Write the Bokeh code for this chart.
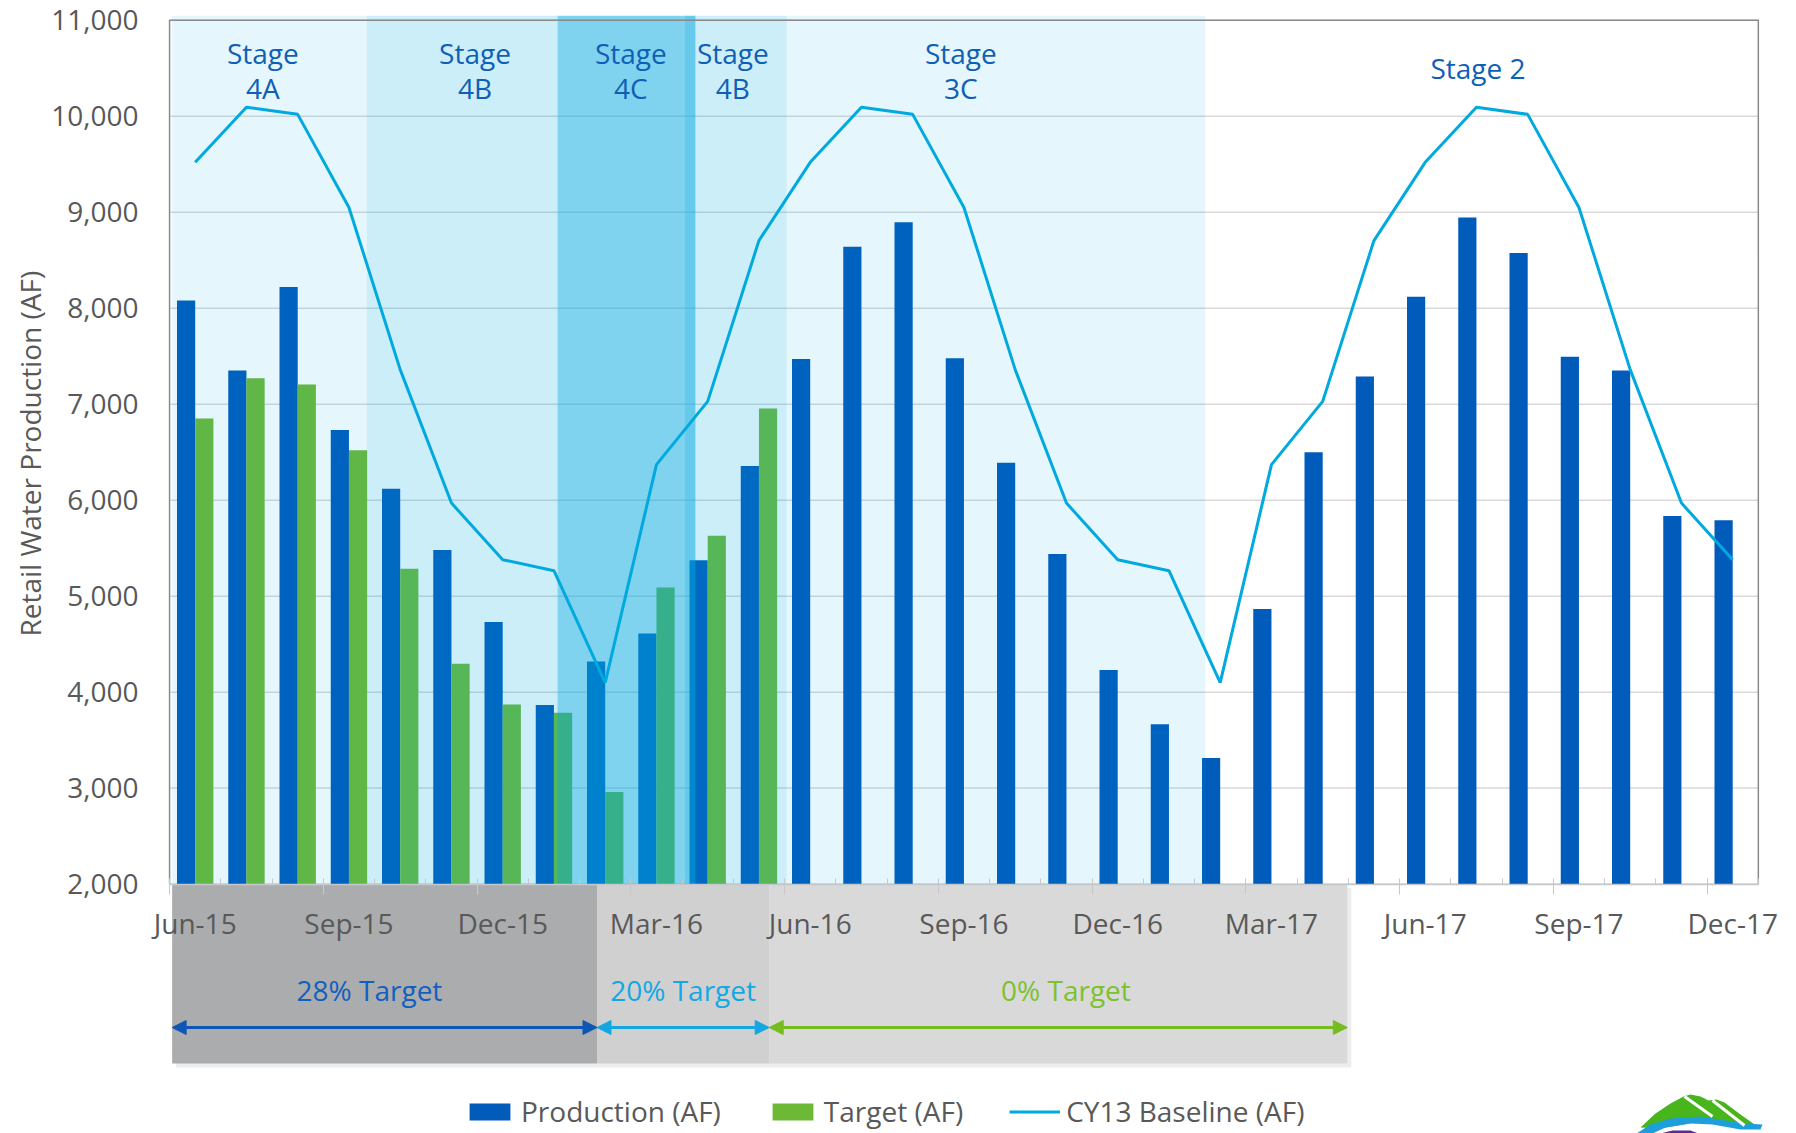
from bokeh.plotting import figure
from bokeh.models import (Range1d, FixedTicker, LinearAxis, NumeralTickFormatter, Arrow,
                          NormalHead, Legend, LegendItem, Title, Grid)
from bokeh.core.properties import value
from bokeh.embed import file_html
from bokeh.resources import INLINE

# ---------------- data ----------------
months = ["Jun-15", "Jul-15", "Aug-15", "Sep-15", "Oct-15", "Nov-15", "Dec-15", "Jan-16",
          "Feb-16", "Mar-16", "Apr-16", "May-16", "Jun-16", "Jul-16", "Aug-16", "Sep-16",
          "Oct-16", "Nov-16", "Dec-16", "Jan-17", "Feb-17", "Mar-17", "Apr-17", "May-17",
          "Jun-17", "Jul-17", "Aug-17", "Sep-17", "Oct-17", "Nov-17", "Dec-17"]
production = [8080, 7350, 8220, 6730, 6120, 5480, 4730, 3865, 4320, 4610, 5375, 6355,
              7470, 8640, 8895, 7480, 6390, 5440, 4230, 3665, 3315, 4865, 6500, 7290,
              8120, 8945, 8575, 7495, 7350, 5835, 5790]
target = [6850, 7270, 7205, 6520, 5285, 4295, 3870, 3785, 2960, 5090, 5630, 6955]
baseline = [9520, 10095, 10020, 9050, 7360, 5970, 5380, 5265, 4100, 6370, 7030, 8705,
            9520, 10095, 10020, 9050, 7360, 5970, 5380, 5265, 4100, 6370, 7030, 8705,
            9520, 10095, 10020, 9050, 7360, 5970, 5380]
x_tick_labels = ["Jun-15", "Sep-15", "Dec-15", "Mar-16", "Jun-16", "Sep-16", "Dec-16",
                 "Mar-17", "Jun-17", "Sep-17", "Dec-17"]
y_ticks = [2000, 3000, 4000, 5000, 6000, 7000, 8000, 9000, 10000, 11000]

# shaded stage periods (month-index positions)
shade_stage = ["4A", "4B", "4C", "4B", "3C"]
shade_start = [-0.45, 3.35, 7.07, 9.56, 11.54]
shade_end = [3.35, 7.07, 9.76, 11.54, 19.71]
stage_labels = ["Stage\n4A", "Stage\n4B", "Stage\n4C", "Stage\n4B", "Stage\n3C", "Stage 2"]
stage_label_x = [1.32, 5.46, 8.5, 10.49, 14.94, 25.03]

# conservation target periods
target_names = ["28% Target", "20% Target", "0% Target"]
target_start = [-0.45, 7.84, 11.2]
target_end = [7.84, 11.2, 22.48]
target_label_x = [3.40, 9.52, 16.99]

# ---------------- geometry ----------------
W, H = 1796, 1133
FL, FR, FT = 145, 1790, 15
MPX, XC0 = 51.25, 194.7              # px per month, px of first month
X0, X1 = (FL - XC0) / MPX, (FR - XC0) / MPX
Y_TOP = 11050
K = (883.6 - 19.8) / 9000.0          # px per data unit
Y_BOT = Y_TOP - (H - FT) / K
Y_BASE, Y_MAX = 2000, 11000
XL, XR = -0.5, 30.5


def px_x(px):
    return X0 + (px - FL) / MPX


def px_y(py):
    return Y_TOP - (py - FT) / K


FONT = "Open Sans"
GREY = "#595959"

p = figure(width=W, height=H, x_range=Range1d(X0, X1), y_range=Range1d(Y_BOT, Y_TOP),
           output_backend="svg", toolbar_location=None, title=None,
           min_border_left=FL, min_border_right=W - FR, min_border_top=FT, min_border_bottom=0,
           x_axis_location=None, y_axis_location="left", outline_line_color=None,
           background_fill_color="white", border_fill_color="white")

# y axis
p.yaxis.ticker = FixedTicker(ticks=y_ticks)
p.yaxis.formatter = NumeralTickFormatter(format="0,0")
p.yaxis.major_label_text_font = FONT
p.yaxis.major_label_text_font_size = "28px"
p.yaxis.major_label_text_color = GREY
p.yaxis.axis_line_color = None
p.yaxis.major_tick_line_color = None
p.yaxis.minor_tick_line_color = None
p.yaxis.major_tick_in = 0
p.yaxis.major_tick_out = 0
p.yaxis.major_label_standoff = 7
p.yaxis.axis_label = None
p.yaxis.axis_label_standoff = 0

for g in p.center:
    if isinstance(g, Grid):
        g.visible = False

p.add_layout(Title(text="Retail Water Production (AF)", align="left", offset=497,
                   standoff=0, text_font=FONT, text_font_size="28px", text_color=GREY,
                   text_font_style="normal"), "left")

n = len(months)
idx = list(range(n))

# horizontal gridlines
p.segment(x0=XL, x1=XR, y0=y_ticks, y1=y_ticks, line_color="#D9D9D9", line_width=1.5)

# ---------------- below-axis target boxes ----------------
box_colors = ["#ABACAE", "#D0D0D0", "#D9D9D9"]
box_bottom = px_y(1063)
sx, sy = 4 / MPX, 4 / K
p.quad(left=[s + sx for s in target_start], right=[e + sx for e in target_end],
       top=[Y_BASE - sy] * 3, bottom=[box_bottom - sy] * 3,
       fill_color="black", fill_alpha=0.07, line_color=None)
p.quad(left=target_start, right=target_end, top=[Y_BASE] * 3, bottom=[box_bottom] * 3,
       fill_color=box_colors, line_color=None)

# ---------------- bars ----------------
BW = 0.355
r_prod = p.vbar(x=[i - BW / 2 for i in idx], width=BW, top=production, bottom=Y_BASE,
                fill_color="#005BBB", line_color=None)
r_tgt = p.vbar(x=[i + BW / 2 for i in range(len(target))], width=BW, top=target,
               bottom=Y_BASE, fill_color="#6DB935", line_color=None)

# ---------------- stage shading (overlay) ----------------
alpha_map = {"4A": 0.10, "4B": 0.20, "4C": 0.50, "3C": 0.10}
p.quad(left=shade_start, right=shade_end, top=[Y_TOP] * len(shade_start),
       bottom=[Y_BASE] * len(shade_start), fill_color=(0, 168, 224),
       fill_alpha=[alpha_map[s] for s in shade_stage], line_color=None)

# ---------------- baseline line ----------------
r_base = p.line(x=idx, y=baseline, line_color="#00A9DE", line_width=3)

# plot border (left, top, right)
p.line(x=[XL, XL, XR, XR], y=[Y_BASE, Y_MAX, Y_MAX, Y_BASE],
       line_color="#8A8A8A", line_width=1.5)

# stage labels
p.text(x=stage_label_x, y=[10475] * 5 + [10500], text=stage_labels,
       text_align="center", text_baseline="middle", text_font=value(FONT),
       text_font_size="28px", text_color="#0E60B6", text_line_height=0.93)

# ---------------- target arrows & labels ----------------
arrow_colors = ["#0D56B5", "#12A7E0", "#76BC21"]
label_colors = ["#1060C0", "#12A8E4", "#7CC22C"]
ya = px_y(1027)
for s, e, c in zip(target_start, target_end, arrow_colors):
    p.add_layout(Arrow(start=NormalHead(size=14, fill_color=c, line_color=c),
                       end=NormalHead(size=14, fill_color=c, line_color=c),
                       x_start=s, y_start=ya, x_end=e, y_end=ya,
                       line_color=c, line_width=3))
p.text(x=target_label_x, y=[px_y(989)] * 3, text=target_names, text_align="center",
       text_baseline="middle", text_font=value(FONT), text_font_size="28px",
       text_color=label_colors)

# ---------------- x axes (at y = 2000) ----------------
ax = LinearAxis(fixed_location=Y_BASE, bounds=(XL, XR))
ax.ticker = FixedTicker(ticks=[i for i in idx if i % 3 == 0],
                        minor_ticks=[i - 0.5 for i in range(n + 1)])
ax.major_label_overrides = {i: lab for i, lab in zip(range(0, n, 3), x_tick_labels)}
ax.major_tick_line_color = None
ax.major_tick_in = 0
ax.major_tick_out = 0
ax.minor_tick_line_color = "#C8C8C8"
ax.minor_tick_in = 6
ax.minor_tick_out = 0
ax.axis_line_color = "#C4C8CC"
ax.axis_line_width = 1.5
ax.major_label_standoff = 20
ax.major_label_text_font = FONT
ax.major_label_text_font_size = "28px"
ax.major_label_text_color = GREY
p.add_layout(ax, "below")

ax2 = LinearAxis(fixed_location=Y_BASE, bounds=(XL, XR))
qt = [i - 0.5 for i in range(0, n + 1, 3)]
ax2.ticker = FixedTicker(ticks=qt)
ax2.major_label_overrides = {t: "" for t in qt}
ax2.major_label_text_font_size = "0px"
ax2.axis_line_color = None
ax2.minor_tick_line_color = None
ax2.major_tick_line_color = "#C8C8C8"
ax2.major_tick_in = 0
ax2.major_tick_out = 10
p.add_layout(ax2, "below")

# ---------------- logo (decoration, bottom right) ----------------
green = [(1640, 1127), (1655, 1113), (1670, 1103), (1683, 1096), (1690, 1094), (1700, 1096),
         (1708, 1100), (1716, 1099), (1724, 1102), (1740, 1114), (1757, 1126), (1745, 1128),
         (1700, 1121), (1660, 1128)]
blue = [(1636, 1133), (1650, 1124), (1670, 1118), (1700, 1116), (1725, 1120), (1745, 1123),
        (1762, 1124), (1760, 1129), (1740, 1129), (1712, 1124), (1690, 1123), (1665, 1127),
        (1652, 1133)]
purple = [(1660, 1133), (1672, 1130), (1690, 1130), (1698, 1133)]
for shape, col in [(green, "#47B51B"), (blue, "#1E9FDC"), (purple, "#5B2C8E")]:
    p.patch(x=[px_x(a) for a, b in shape], y=[px_y(b) for a, b in shape],
            fill_color=col, line_color=None)
p.multi_line(xs=[[px_x(1684), px_x(1712)], [px_x(1712), px_x(1744)]],
             ys=[[px_y(1096), px_y(1116)], [px_y(1100), px_y(1125)]],
             line_color="white", line_width=3)

# ---------------- legend ----------------
legend = Legend(items=[LegendItem(label="Production (AF)", renderers=[r_prod]),
                       LegendItem(label="Target (AF)", renderers=[r_tgt]),
                       LegendItem(label="CY13 Baseline (AF)", renderers=[r_base])],
                location=(464 - FL, 3), orientation="horizontal",
                background_fill_alpha=0, border_line_color=None,
                label_text_font=FONT, label_text_font_size="28px", label_text_color=GREY,
                glyph_width=51, glyph_height=21, label_standoff=6, spacing=46,
                padding=0, margin=0)
p.add_layout(legend)

open("out.html", "w").write(file_html(p, INLINE))
